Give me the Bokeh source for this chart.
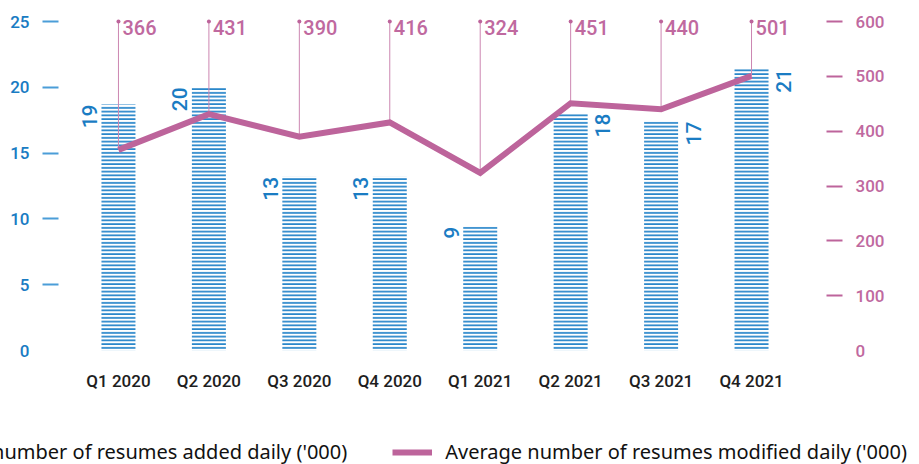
import math
from bokeh.plotting import figure
from bokeh.layouts import column
from bokeh.models import Range1d, LinearAxis, FixedTicker, ColumnDataSource, Legend, LegendItem
from bokeh.core.properties import value
from bokeh.embed import file_html
from bokeh.resources import INLINE

# ---- data -----------------------------------------------------------------
quarters = ["Q1 2020", "Q2 2020", "Q3 2020", "Q4 2020",
            "Q1 2021", "Q2 2021", "Q3 2021", "Q4 2021"]
added_daily = [18.7, 20.0, 13.2, 13.2, 9.4, 18.0, 17.4, 21.4]          # '000, left axis
added_labels = ["19", "20", "13", "13", "9", "18", "17", "21"]
modified_daily = [366, 431, 390, 416, 324, 451, 440, 501]              # '000, right axis
left_ticks = [0, 5, 10, 15, 20, 25]
right_ticks = [0, 100, 200, 300, 400, 500, 600]
label_right_of_bar = [False, False, False, False, False, True, True, True]
series_names = ["Average number of resumes added daily ('000)",
                "Average number of resumes modified daily ('000)"]

# ---- style ----------------------------------------------------------------
PINK = "#bd649b"
PINK_TEXT = "#c0699f"
PINK_PIN = "#cc86b1"
BLUE = "#1a7cc3"
BLUE_TICK = "#4b9dd8"
HATCH = "#157bc6"
PIN_TOP = 600
BAR_W = 0.376
FONT = "Noto Sans"
FONT_MED = "Roboto Medium"
BAR_STYLE = dict(fill_color=None, line_color=None, hatch_pattern="horizontal_line",
                 hatch_color=HATCH, hatch_scale=3.75, hatch_weight=1.6)
LINE_STYLE = dict(line_color=PINK, line_width=6, line_join="miter")

xs = list(range(len(quarters)))

p = figure(width=919, height=420,
           x_range=Range1d(-0.663, 7.829), y_range=Range1d(0, 26.6),
           output_backend="svg", toolbar_location=None,
           min_border_left=58, min_border_right=93, min_border_top=0, min_border_bottom=70)
p.extra_y_ranges = {"right": Range1d(0, 638.4)}
p.grid.visible = False
p.outline_line_color = None
p.frame_align = False

# bars (hatched with horizontal lines)
bar_src = ColumnDataSource(dict(x=xs, top=added_daily))
p.vbar(x="x", top="top", bottom=0, width=BAR_W, source=bar_src, **BAR_STYLE)

# bar value labels (rotated)
left_src = ColumnDataSource(dict(
    x=[i - BAR_W / 2 for i, r in zip(xs, label_right_of_bar) if not r],
    y=[v for v, r in zip(added_daily, label_right_of_bar) if not r],
    t=[t for t, r in zip(added_labels, label_right_of_bar) if not r]))
right_src = ColumnDataSource(dict(
    x=[i + BAR_W / 2 for i, r in zip(xs, label_right_of_bar) if r],
    y=[v for v, r in zip(added_daily, label_right_of_bar) if r],
    t=[t for t, r in zip(added_labels, label_right_of_bar) if r]))
for src, xoff in ((left_src, -12), (right_src, 15)):
    p.text(x="x", y="y", text="t", source=src, angle=math.pi / 2,
           x_offset=xoff, text_align="right", text_baseline="alphabetic",
           text_font=value(FONT_MED), text_font_size="21px", text_color=BLUE)

# pins with value labels for the line
pin_src = ColumnDataSource(dict(x=xs, y=modified_daily, top=[PIN_TOP] * len(xs),
                                t=[str(v) for v in modified_daily]))
p.segment(x0="x", y0="y", x1="x", y1="top", source=pin_src, y_range_name="right",
          line_color=PINK_PIN, line_width=1)
p.scatter(x="x", y="top", source=pin_src, y_range_name="right", size=4,
          fill_color=PINK, line_color=None)
p.text(x="x", y="top", text="t", source=pin_src, y_range_name="right",
       x_offset=4, y_offset=6, text_baseline="middle", text_align="left",
       text_font=value(FONT_MED), text_font_size="20px", text_color=PINK_TEXT)

# line
p.line(x=xs, y=modified_daily, y_range_name="right", **LINE_STYLE)

# ---- axes -----------------------------------------------------------------
def style_y(ax, ticks, label_color, tick_color):
    ax.ticker = FixedTicker(ticks=ticks, minor_ticks=ticks[1:])
    ax.axis_line_color = None
    ax.major_tick_line_color = None
    ax.major_tick_out = 16
    ax.major_tick_in = 0
    ax.minor_tick_out = 16
    ax.minor_tick_in = 0
    ax.minor_tick_line_color = tick_color
    ax.minor_tick_line_width = 2
    ax.major_label_standoff = 13
    ax.major_label_text_color = label_color
    ax.major_label_text_font = FONT_MED
    ax.major_label_text_font_size = "17px"

style_y(p.yaxis[0], left_ticks, BLUE, BLUE_TICK)
yr = LinearAxis(y_range_name="right")
style_y(yr, right_ticks, PINK_TEXT, PINK)
p.add_layout(yr, "right")

xa = p.xaxis[0]
xa.ticker = FixedTicker(ticks=xs)
xa.major_label_overrides = {i: q for i, q in enumerate(quarters)}
xa.axis_line_color = None
xa.major_tick_line_color = None
xa.major_tick_out = 0
xa.minor_tick_line_color = None
xa.major_label_standoff = 20
xa.major_label_text_font = FONT_MED
xa.major_label_text_font_size = "17px"
xa.major_label_text_color = "#1e1e1e"

# ---- legend strip (separate figure under the chart) -------------------------
# proxy renderers reuse the real series but fall outside this strip's ranges
lg = figure(width=919, height=44, x_range=Range1d(-20, -10), y_range=Range1d(-2, -1),
            output_backend="svg", toolbar_location=None,
            x_axis_type=None, y_axis_type=None,
            min_border_left=0, min_border_right=0, min_border_top=0, min_border_bottom=0)
lg.grid.visible = False
lg.outline_line_color = None
lg.frame_align = False
leg_bar = lg.vbar(x=xs, top=added_daily, width=BAR_W, **BAR_STYLE)
leg_line = lg.line(x=xs, y=modified_daily, **LINE_STYLE)
legend = Legend(items=[LegendItem(label=series_names[0], renderers=[leg_bar]),
                       LegendItem(label=series_names[1], renderers=[leg_line])],
                orientation="horizontal", location=(-143, -1),
                glyph_width=40, glyph_height=20, label_height=20,
                label_standoff=13, spacing=45, padding=0, margin=0,
                border_line_color=None, background_fill_alpha=0,
                label_text_font=FONT, label_text_font_size="20px",
                label_text_color="#111111")
lg.add_layout(legend, "center")

page = column(p, lg, spacing=0)
open("out.html", "w").write(file_html(page, INLINE))
